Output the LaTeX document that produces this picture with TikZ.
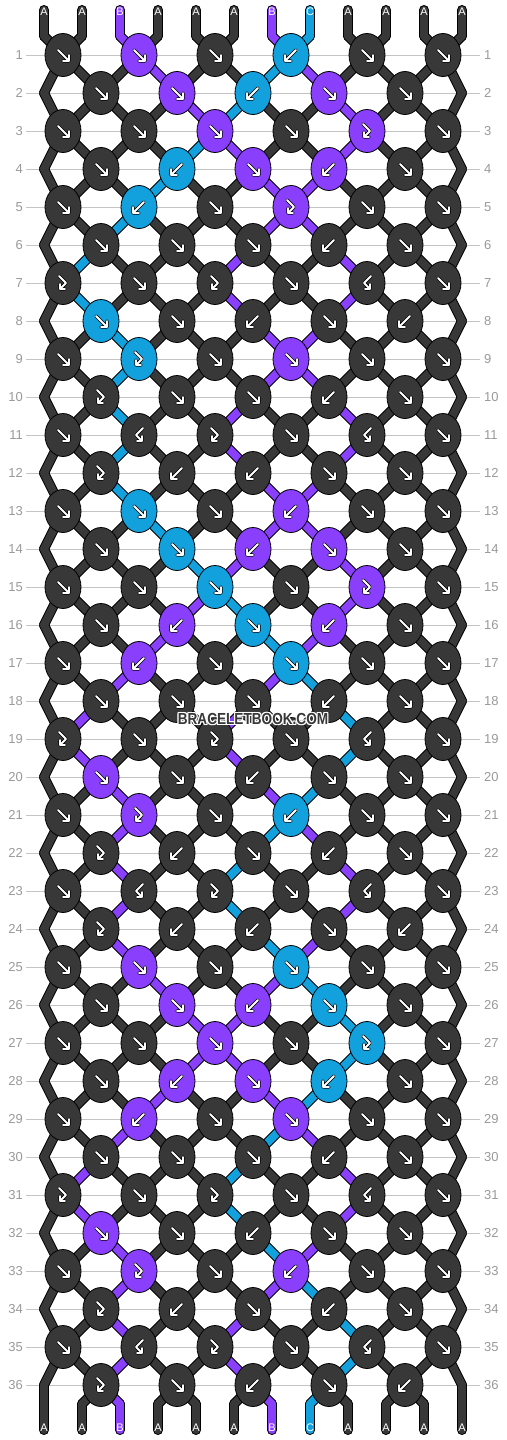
\documentclass[tikz,border=0pt]{standalone}
\usepackage{fontspec}
\setmainfont{Liberation Sans}
\usetikzlibrary{shapes.geometric}

\definecolor{strA}{HTML}{383838}
\definecolor{strB}{HTML}{8A3FFC}
\definecolor{strC}{HTML}{12A1DC}
\definecolor{rowgray}{HTML}{C4C4C4}
\definecolor{numgray}{HTML}{9A9A9A}

\pgfdeclarelayer{grid}
\pgfdeclarelayer{outline}
\pgfdeclarelayer{strings}
\pgfsetlayers{grid,outline,strings,main}

\tikzset{
  knot/.style={ellipse,draw=black,line width=0.8,minimum width=36,minimum height=43,inner sep=0},
  glyph/.style={draw=white,line width=1.9,line cap=round,line join=round,
    preaction={draw=black,line width=3.4,line cap=round,line join=round}},
  strback/.style={draw=black,line width=10,line cap=round},
  strfill/.style={line width=8,line cap=round},
  rownum/.style={inner sep=0,text=numgray,font=\fontsize{13}{13}\selectfont},
  rowline/.style={draw=rowgray,line width=0.8,shorten <=3,shorten >=4},
  endlabel/.style={inner sep=0,text=white,font=\fontsize{11}{11}\selectfont},
  wmark/.style={inner sep=0,text=strA,font=\fontsize{16}{16}\selectfont\bfseries},
  pics/kf/.style={code={\draw[glyph] (-5,-5) -- (6,6) (6,0) -- (6,6) -- (0,6);}},
  pics/kb/.style={code={\draw[glyph] (5,-5) -- (-6,6) (-6,0) -- (-6,6) -- (0,6);}},
  pics/kfb/.style={code={\draw[glyph] (-4,-7) -- (3,0) -- (-3,6) (-3,1) -- (-3,6) -- (2,6);}},
  pics/kbf/.style={code={\draw[glyph] (4,-7) -- (-3,0) -- (3,6) (3,1) -- (3,6) -- (-2,6);}},
}

% colours of the twelve strings below each row (row 0 = top ends)
\def\strstates{
    0/{A,A,B,A,A,A,B,C,A,A,A,A},
    1/{A,A,A,B,A,A,C,B,A,A,A,A},
    2/{A,A,A,A,B,C,A,A,B,A,A,A},
    3/{A,A,A,A,C,B,A,A,B,A,A,A},
    4/{A,A,A,C,A,A,B,B,A,A,A,A},
    5/{A,A,C,A,A,A,B,B,A,A,A,A},
    6/{A,C,A,A,A,B,A,A,B,A,A,A},
    7/{A,C,A,A,A,B,A,A,B,A,A,A},
    8/{A,A,C,A,A,A,B,B,A,A,A,A},
    9/{A,A,C,A,A,A,B,B,A,A,A,A},
    10/{A,A,C,A,A,B,A,A,B,A,A,A},
    11/{A,A,C,A,A,B,A,A,B,A,A,A},
    12/{A,A,C,A,A,A,B,B,A,A,A,A},
    13/{A,A,A,C,A,A,B,B,A,A,A,A},
    14/{A,A,A,A,C,B,A,A,B,A,A,A},
    15/{A,A,A,A,B,C,A,A,B,A,A,A},
    16/{A,A,A,B,A,A,C,B,A,A,A,A},
    17/{A,A,B,A,A,A,B,C,A,A,A,A},
    18/{A,B,A,A,A,B,A,A,C,A,A,A},
    19/{A,B,A,A,A,B,A,A,C,A,A,A},
    20/{A,A,B,A,A,A,B,C,A,A,A,A},
    21/{A,A,B,A,A,A,C,B,A,A,A,A},
    22/{A,A,B,A,A,C,A,A,B,A,A,A},
    23/{A,A,B,A,A,C,A,A,B,A,A,A},
    24/{A,A,B,A,A,A,C,B,A,A,A,A},
    25/{A,A,A,B,A,A,B,C,A,A,A,A},
    26/{A,A,A,A,B,B,A,A,C,A,A,A},
    27/{A,A,A,A,B,B,A,A,C,A,A,A},
    28/{A,A,A,B,A,A,B,C,A,A,A,A},
    29/{A,A,B,A,A,A,C,B,A,A,A,A},
    30/{A,B,A,A,A,C,A,A,B,A,A,A},
    31/{A,B,A,A,A,C,A,A,B,A,A,A},
    32/{A,A,B,A,A,A,C,B,A,A,A,A},
    33/{A,A,B,A,A,A,B,C,A,A,A,A},
    34/{A,A,B,A,A,B,A,A,C,A,A,A},
    35/{A,A,B,A,A,B,A,A,C,A,A,A},
    36/{A,A,B,A,A,A,B,C,A,A,A,A}}

% one string segment per position, from row \rw to row \rn
\newcommand\strpass[1]{%
  \foreach \rw/\st in \strstates {
    \pgfmathtruncatemacro{\rn}{\rw+1}
    \foreach \sc [count=\p] in \st {
      \pgfmathtruncatemacro{\ka}{(\rw==0) ? \p : ((mod(\rw,2)==1) ? (\p+1)/2 : \p/2)}
      \pgfmathtruncatemacro{\kb}{(\rn==37) ? \p : ((mod(\rn,2)==1) ? (\p+1)/2 : \p/2)}
      \draw[#1] (K-\rw-\ka.center) -- (K-\rn-\kb.center);
    }
  }
  \foreach \lb [count=\p] in {A,A,B,A,A,A,B,C,A,A,A,A}{
    \def\sc{\lb}
    \draw[#1] (S-t-\p) -- (K-0-\p.center);
    \draw[#1] (K-37-\p.center) -- (S-b-\p);
  }
}

\begin{document}
\begin{tikzpicture}[x=1pt,y=-1pt]
  \useasboundingbox (0,0) rectangle (506,1440);

  % row numbers
  \foreach \rw in {1,...,36}{
    \pgfmathsetmacro{\yy}{55+38*(\rw-1)}
    \node[rownum,anchor=east] (N-l-\rw) at (23,\yy) {\rw};
    \node[rownum,anchor=west] (N-r-\rw) at (484,\yy) {\rw};
  }

  % knots: type/colour
  \foreach \rw/\knots in {
    1/{f/A,f/B,f/A,b/C,f/A,f/A},
    2/{f/A,f/B,b/C,f/B,f/A},
    3/{f/A,f/A,f/B,f/A,fb/B,f/A},
    4/{f/A,b/C,f/B,b/B,f/A},
    5/{f/A,b/C,f/A,fb/B,f/A,f/A},
    6/{f/A,f/A,f/A,b/A,f/A},
    7/{fb/A,f/A,fb/A,f/A,bf/A,f/A},
    8/{f/C,f/A,b/A,f/A,b/A},
    9/{f/A,fb/C,f/A,f/B,f/A,f/A},
    10/{fb/A,f/A,f/A,b/A,f/A},
    11/{f/A,bf/A,fb/A,f/A,bf/A,f/A},
    12/{fb/A,b/A,b/A,f/A,f/A},
    13/{f/A,f/C,f/A,b/B,f/A,f/A},
    14/{f/A,f/C,b/B,f/B,f/A},
    15/{f/A,f/A,f/C,f/A,fb/B,f/A},
    16/{f/A,b/B,f/C,b/B,f/A},
    17/{f/A,b/B,f/A,f/C,f/A,f/A},
    18/{f/A,f/A,f/A,b/A,f/A},
    19/{fb/A,f/A,fb/A,f/A,bf/A,f/A},
    20/{f/B,f/A,b/A,f/A,f/A},
    21/{f/A,fb/B,f/A,b/C,f/A,f/A},
    22/{fb/A,b/A,f/A,b/A,f/A},
    23/{f/A,bf/A,fb/A,f/A,bf/A,f/A},
    24/{fb/A,b/A,b/A,f/A,b/A},
    25/{f/A,f/B,f/A,f/C,f/A,f/A},
    26/{f/A,f/B,b/B,f/C,f/A},
    27/{f/A,f/A,f/B,f/A,fb/C,f/A},
    28/{f/A,b/B,f/B,b/C,f/A},
    29/{f/A,b/B,f/A,f/B,f/A,f/A},
    30/{f/A,f/A,f/A,b/A,f/A},
    31/{fb/A,f/A,fb/A,f/A,bf/A,f/A},
    32/{f/B,f/A,b/A,f/A,f/A},
    33/{f/A,fb/B,f/A,b/B,f/A,f/A},
    34/{fb/A,b/A,f/A,b/A,f/A},
    35/{f/A,bf/A,fb/A,f/A,bf/A,f/A},
    36/{fb/A,f/A,b/A,f/A,b/A}}{
    \pgfmathsetmacro{\yy}{55+38*(\rw-1)}
    \ifodd\rw\relax
      \def\xo{63}
    \else
      \def\xo{101}
      \coordinate (K-\rw-0) at (44,\yy);
      \coordinate (K-\rw-6) at (462,\yy);
    \fi
    \foreach \kt/\kc [count=\k] in \knots {
      \pgfmathsetmacro{\xx}{\xo+76*(\k-1)}
      \node[knot,fill=str\kc] (K-\rw-\k) at (\xx,\yy) {};
      \pic at (K-\rw-\k) {k\kt};
    }
  }

  % loose ends, top and bottom
  \foreach \lb [count=\p] in {A,A,B,A,A,A,B,C,A,A,A,A}{
    \pgfmathsetmacro{\xx}{6+38*\p}
    \coordinate (K-0-\p) at (\xx,36);
    \coordinate (K-37-\p) at (\xx,1404);
    \coordinate (S-t-\p) at (\xx,10);
    \coordinate (S-b-\p) at (\xx,1430);
    \node[endlabel] (L-t-\p) at (\xx,12) {\lb};
    \node[endlabel] (L-b-\p) at (\xx,1428) {\lb};
  }

  \begin{pgfonlayer}{grid}
    \fill[white] (0,0) rectangle (506,1440);
    \foreach \rw in {1,...,36}
      \draw[rowline] (N-l-\rw.east) -- (N-r-\rw.west);
  \end{pgfonlayer}
  \begin{pgfonlayer}{outline}
    \strpass{strback}
  \end{pgfonlayer}
  \begin{pgfonlayer}{strings}
    \strpass{strfill,draw=str\sc}
  \end{pgfonlayer}

  % watermark
  \foreach \dx/\dy [count=\n] in {1/0,-1/0,0/1,0/-1,1/1,-1/-1,1/-1,-1/1}{
    \node[wmark,text=white] (WM-\n) at (253+\dx,719+\dy) {\scalebox{0.85}[1]{BRACELETBOOK.COM}};
  }
  \node[wmark] (WM) at (253,719) {\scalebox{0.85}[1]{BRACELETBOOK.COM}};
\end{tikzpicture}
\end{document}
